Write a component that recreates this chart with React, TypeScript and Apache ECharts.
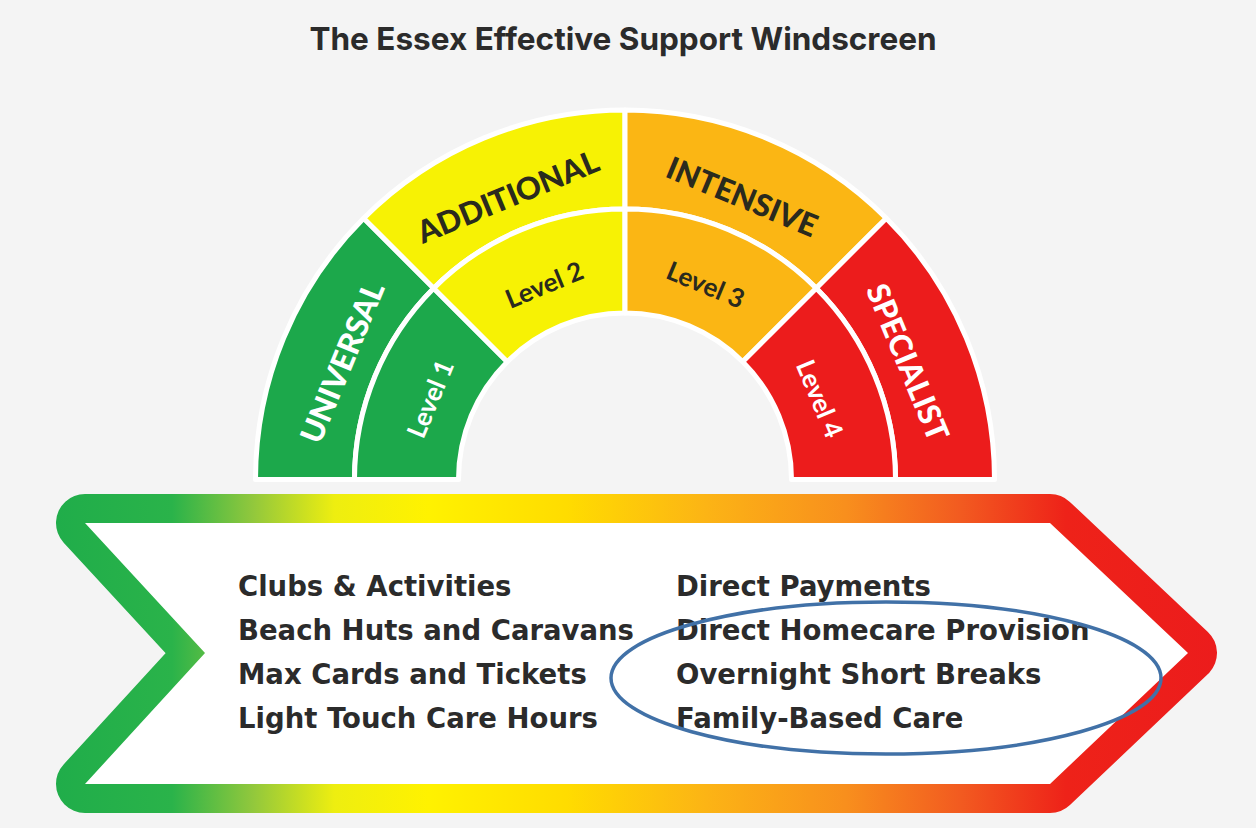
import React, { useEffect, useRef } from 'react';
import * as echarts from 'echarts';

const title = 'The Essex Effective Support Windscreen';
const tiers = ['UNIVERSAL', 'ADDITIONAL', 'INTENSIVE', 'SPECIALIST'];
const levels = ['Level 1', 'Level 2', 'Level 3', 'Level 4'];
const tierShare = [1, 1, 1, 1];
const tierColors = ['#1ca84b', '#f7f204', '#fbb614', '#ec1c1c'];
const tierTextColors = ['#ffffff', '#2a2a1e', '#2a2a1e', '#ffffff'];
const supportLeft = ['Clubs & Activities', 'Beach Huts and Caravans', 'Max Cards and Tickets', 'Light Touch Care Hours'];
const supportRight = ['Direct Payments', 'Direct Homecare Provision', 'Overnight Short Breaks', 'Family-Based Care'];
const bandStopOffsets = [0, 0.1, 0.17, 0.24, 0.32, 0.44, 0.56, 0.68, 0.78, 0.87, 1];
const bandStopColors = ['#20ad4a', '#2ab34a', '#92c83c', '#eeee10', '#fff200', '#ffdc00', '#fcb415', '#f88f1d', '#f25a20', '#ee2219', '#ec1c1c'];

const RING_FONT = 'Lato, "Open Sans", sans-serif';
const TITLE_FONT = 'Inter, "Open Sans", sans-serif';
const LIST_FONT = '"DejaVu Sans", Inter, sans-serif';

export default function App() {
  const ref = useRef<HTMLDivElement>(null);
  useEffect(() => {
    if (!ref.current) return;
    const chart = echarts.init(ref.current, undefined, { renderer: 'svg' });
    const cx = 625;
    const cy = 479.5;
    const gradient = new echarts.graphic.LinearGradient(
      56, 0, 1217, 0,
      bandStopOffsets.map((o, i) => ({ offset: o, color: bandStopColors[i] })),
      true
    );
    const inner: number[][] = [[85, 523], [1050, 523], [1188, 653], [1050, 784], [85, 784], [205, 653]];
    const lineY0 = 600;
    const lineGap = 44;
    const listText = (items: string[], x: number) =>
      items.map((t, i) => ({
        type: 'text',
        x,
        y: lineY0 + i * lineGap,
        z: 5,
        style: {
          text: t,
          fontFamily: LIST_FONT,
          fontWeight: 'bold',
          fontSize: 27.5,
          fill: '#2b2b2b',
          align: 'left',
          verticalAlign: 'bottom',
        },
      }));
    // an empty first line moves the label toward the centre by half a line
    const ringLabel = (size: number, inwardLine: number) => ({
      show: true,
      position: 'inside',
      rotate: 'tangential',
      formatter: ' \n{b}',
      fontFamily: RING_FONT,
      fontWeight: 900,
      fontSize: size,
      lineHeight: inwardLine,
    });
    chart.setOption({
      animation: false,
      backgroundColor: '#f4f4f4',
      series: [
        {
          type: 'pie',
          silent: true,
          center: [cx, cy],
          radius: [270.5, 369.5],
          startAngle: 180,
          endAngle: 0,
          clockwise: true,
          label: ringLabel(31, 32),
          labelLine: { show: false },
          itemStyle: { borderColor: '#ffffff', borderWidth: 5 },
          data: tiers.map((name, i) => ({
            name,
            value: tierShare[i],
            itemStyle: { color: tierColors[i] },
            label: { color: tierTextColors[i] },
          })),
        },
        {
          type: 'pie',
          silent: true,
          center: [cx, cy],
          radius: [166.5, 270.5],
          startAngle: 180,
          endAngle: 0,
          clockwise: true,
          label: ringLabel(26, 20),
          labelLine: { show: false },
          itemStyle: { borderColor: '#ffffff', borderWidth: 5 },
          data: levels.map((name, i) => ({
            name,
            value: tierShare[i],
            itemStyle: { color: tierColors[i] },
            label: { color: tierTextColors[i], fontWeight: 'bold' },
          })),
        },
      ],
      graphic: [
        {
          type: 'text',
          x: 623,
          y: 38,
          style: {
            text: title,
            fontFamily: TITLE_FONT,
            fontWeight: 'bold',
            fontSize: 31.5,
            fill: '#2b2b2b',
            align: 'center',
            verticalAlign: 'middle',
          },
        },
        {
          type: 'polygon',
          z: 1,
          silent: true,
          shape: { points: inner },
          style: { fill: 'none', stroke: gradient, lineWidth: 58, lineJoin: 'round' },
        },
        {
          type: 'polygon',
          z: 2,
          silent: true,
          shape: { points: inner },
          style: { fill: '#ffffff', stroke: 'none' },
        },
        ...listText(supportLeft, 238),
        ...listText(supportRight, 676),
        {
          type: 'ellipse',
          z: 10,
          silent: true,
          shape: { cx: 886, cy: 678, rx: 275, ry: 76 },
          style: { fill: 'none', stroke: '#4171a7', lineWidth: 3.5 },
        },
      ],
    });
    return () => chart.dispose();
  }, []);
  return <div ref={ref} style={{ position: 'fixed', left: 0, top: 0, width: 1256, height: 828 }} />;
}
